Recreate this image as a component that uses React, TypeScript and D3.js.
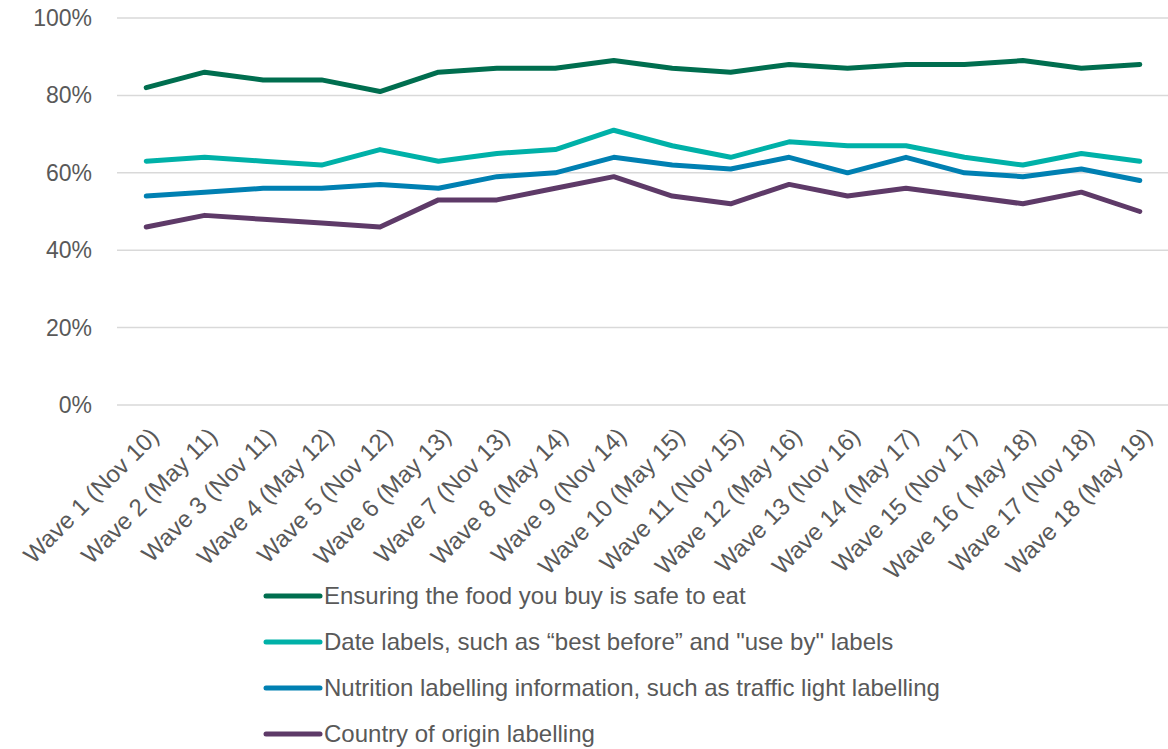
import React from "react";
import * as d3 from "d3";

const categories = [
  "Wave 1 (Nov 10)", "Wave 2 (May 11)", "Wave 3 (Nov 11)", "Wave 4 (May 12)",
  "Wave 5 (Nov 12)", "Wave 6 (May 13)", "Wave 7 (Nov 13)", "Wave 8 (May 14)",
  "Wave 9 (Nov 14)", "Wave 10 (May 15)", "Wave 11 (Nov 15)", "Wave 12 (May 16)",
  "Wave 13 (Nov 16)", "Wave 14 (May 17)", "Wave 15 (Nov 17)", "Wave 16 ( May 18)",
  "Wave 17 (Nov 18)", "Wave 18 (May 19)",
];
const safeToEat = [82, 86, 84, 84, 81, 86, 87, 87, 89, 87, 86, 88, 87, 88, 88, 89, 87, 88];
const dateLabels = [63, 64, 63, 62, 66, 63, 65, 66, 71, 67, 64, 68, 67, 67, 64, 62, 65, 63];
const nutrition = [54, 55, 56, 56, 57, 56, 59, 60, 64, 62, 61, 64, 60, 64, 60, 59, 61, 58];
const countryOrigin = [46, 49, 48, 47, 46, 53, 53, 56, 59, 54, 52, 57, 54, 56, 54, 52, 55, 50];
const yTicks = [0, 20, 40, 60, 80, 100];

const seriesNames = [
  "Ensuring the food you buy is safe to eat",
  "Date labels, such as \u201cbest before\u201d and \"use by\" labels",
  "Nutrition labelling information, such as traffic light labelling",
  "Country of origin labelling",
];
const seriesColors = ["#006E4F", "#00B1A8", "#0080B2", "#5E3A68"];

export default function App() {
  const W = 1168, H = 749;
  const left = 117, right = 1169, top = 18, bottom = 405;
  const x = d3.scaleBand<string>().domain(categories).range([left, right]);
  const y = d3.scaleLinear().domain([0, 100]).range([bottom, top]);
  const cx = (c: string) => (x(c) as number) + x.bandwidth() / 2;
  const series = [safeToEat, dateLabels, nutrition, countryOrigin];
  const line = d3.line<number>().x((_, i) => cx(categories[i])).y((d) => y(d));
  const font = "Arial, 'Liberation Sans', sans-serif";
  const textColor = "#595959";
  return (
    <svg width={W} height={H} style={{ position: "absolute", left: 0, top: 0, background: "#fff" }}>
      {yTicks.map((t) => (
        <g key={t}>
          <line x1={left} x2={1168} y1={y(t)} y2={y(t)} stroke="#d9d9d9" strokeWidth={1.5} />
          <text x={92} y={y(t)} dy="0.35em" textAnchor="end" fontFamily={font} fontSize={23} fill={textColor}>
            {t}%
          </text>
        </g>
      ))}
      {categories.map((c) => (
        <text
          key={c}
          transform={`translate(${cx(c) + 8},${bottom + 27}) rotate(-45)`}
          textAnchor="end"
          dy="0.35em"
          fontFamily={font}
          fontSize={24}
          fill={textColor}
        >
          {c}
        </text>
      ))}
      {series.map((s, i) => (
        <path key={i} d={line(s) || ""} fill="none" stroke={seriesColors[i]} strokeWidth={5} strokeLinejoin="round" strokeLinecap="round" />
      ))}
      {seriesNames.map((n, i) => {
        const ly = 596 + i * 46;
        return (
          <g key={n}>
            <line x1={266} x2={320} y1={ly} y2={ly} stroke={seriesColors[i]} strokeWidth={5} strokeLinecap="round" />
            <text x={324} y={ly} dy="0.35em" fontFamily={font} fontSize={24} fill={textColor}>
              {n}
            </text>
          </g>
        );
      })}
    </svg>
  );
}
